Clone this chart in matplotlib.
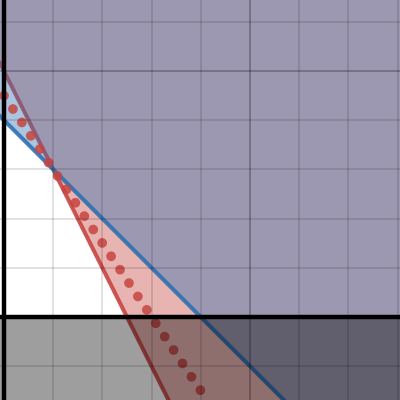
import numpy as np
import matplotlib
matplotlib.use('Agg')
import matplotlib.pyplot as plt
from matplotlib.ticker import MultipleLocator

# view window (graph units)
x_min, x_max = -0.081, 8.049
y_min, y_max = -1.687, 6.443

# boundary lines y = m*x + b
blue_slope, blue_intercept = -1, 4
red_slope, red_intercept = -2, 5

# dotted segment end points
dotted_x = [0, 4]
dotted_y = [4.5, -1.5]

blue = '#2d70b3'
red = '#c74440'

fig = plt.figure(figsize=(4, 4), dpi=100)
ax = fig.add_axes([0, 0, 1, 1])
ax.set_xlim(x_min, x_max)
ax.set_ylim(y_min, y_max)

xs = np.array([x_min, x_max])
blue_y = blue_slope * xs + blue_intercept
red_y = red_slope * xs + red_intercept

# red region above the solid red line
ax.fill_between(xs, red_y, y_max, color=red, alpha=0.4, linewidth=0, zorder=1.0)
ax.plot(xs, red_y, color=red, lw=2.9, alpha=0.9, zorder=1.1)

# blue region above the blue line
ax.fill_between(xs, blue_y, y_max, color=blue, alpha=0.4, linewidth=0, zorder=1.2)
ax.plot(xs, blue_y, color=blue, lw=2.9, alpha=0.9, zorder=1.3)

# dotted red line (22 gaps along the segment)
ax.plot(dotted_x, dotted_y, color=red, lw=7, alpha=0.85,
        linestyle=(0, (0.01, 1.645)), dash_capstyle='round', zorder=1.4)

# shade below x axis
ax.fill_between(xs, y_min, 0, color='black', alpha=0.38, linewidth=0, zorder=1.5)

# grid
for axis in (ax.xaxis, ax.yaxis):
    axis.set_major_locator(MultipleLocator(5))
    axis.set_minor_locator(MultipleLocator(1))
ax.tick_params(which='both', length=0, labelbottom=False, labelleft=False)
ax.grid(which='minor', color='black', alpha=0.12, linewidth=1.4)
ax.grid(which='major', color='black', alpha=0.25, linewidth=1.4)
for s in ax.spines.values():
    s.set_visible(False)

# axes
ax.axhline(0, color='black', lw=3.2, zorder=3)
ax.axvline(0, color='black', lw=3.2, zorder=3)

plt.savefig('out.png', dpi=100)
